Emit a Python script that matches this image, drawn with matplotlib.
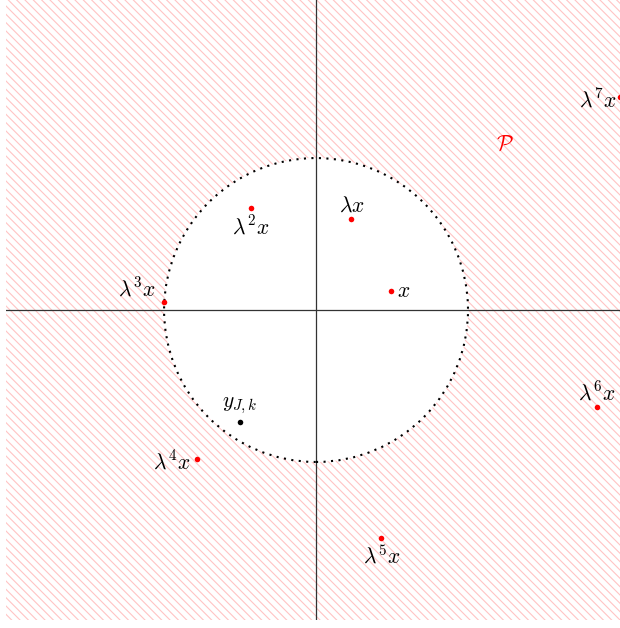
import numpy as np
from matplotlib import pyplot as plt
from matplotlib.patches import Rectangle, Circle

plt.rcParams['mathtext.fontset'] = 'cm'
plt.rcParams['hatch.linewidth'] = 0.8

# orbit points lambda^k x (unit circle = boundary of the disc)
pt_x = [0.49, 0.23, -0.43, -1.0, -0.78, 0.43, 1.85, 2.0]
pt_y = [0.125, 0.60, 0.67, 0.053, -0.98, -1.50, -0.64, 1.40]
pt_labels = [r'$x$', r'$\lambda x$', r'$\lambda^2 x$', r'$\lambda^3 x$',
             r'$\lambda^4 x$', r'$\lambda^5 x$', r'$\lambda^6 x$', r'$\lambda^7 x$']

y_pt = (-0.5, -0.74)
y_label = r'$y_{J,k}$'

P_pos = (1.243, 1.086)

xmin, xmax = -2.04, 2.0
ymin, ymax = -2.04, 2.04

# label offsets (pixels) and alignments
offsets = [(6, 0), (1, 13), (0, -18), (-27, 13), (-26, -3), (0, -18), (0, 15), (-22, -2)]
aligns = ['left', 'center', 'center', 'center', 'center', 'center', 'center', 'center']

fig = plt.figure(figsize=(6.2, 6.28), dpi=100)
ax = fig.add_axes([6/620, 8/628, 614/620, 620/628])
ax.set_xlim(xmin, xmax)
ax.set_ylim(ymin, ymax)
ax.axis('off')

# hatched region outside the disc
ax.add_patch(Rectangle((xmin, ymin), xmax - xmin, ymax - ymin, facecolor='white',
                       edgecolor='#ffc4c4', hatch='\\\\\\\\', lw=0, zorder=0))
ax.add_patch(Circle((0, 0), 1.0, facecolor='white', edgecolor='none', zorder=1))
ax.add_patch(Circle((0, 0), 1.0, fill=False, edgecolor='black', lw=1.5,
                    linestyle=(0, (1, 2.6)), zorder=3))

ax.axhline(0, color='#333333', lw=0.9, zorder=2)
ax.axvline(0, color='#333333', lw=0.9, zorder=2)

ax.plot(pt_x, pt_y, 'o', color='red', ms=4, mec='none', zorder=4)
ax.plot([y_pt[0]], [y_pt[1]], 'o', color='black', ms=4, mec='none', zorder=4)

for px, py, lab, off, ha in zip(pt_x, pt_y, pt_labels, offsets, aligns):
    ax.annotate(lab, (px, py), xytext=off, textcoords='offset pixels',
                ha=ha, va='center', fontsize=15.5, zorder=5)
ax.annotate(y_label, y_pt, xytext=(0, 17), textcoords='offset pixels',
            ha='center', va='center', fontsize=15.5, zorder=5)
ax.text(P_pos[0], P_pos[1], r'$\mathcal{P}$', color='red', fontsize=15.5,
        ha='center', va='center', zorder=5)

fig.savefig('out.png', dpi=100)
